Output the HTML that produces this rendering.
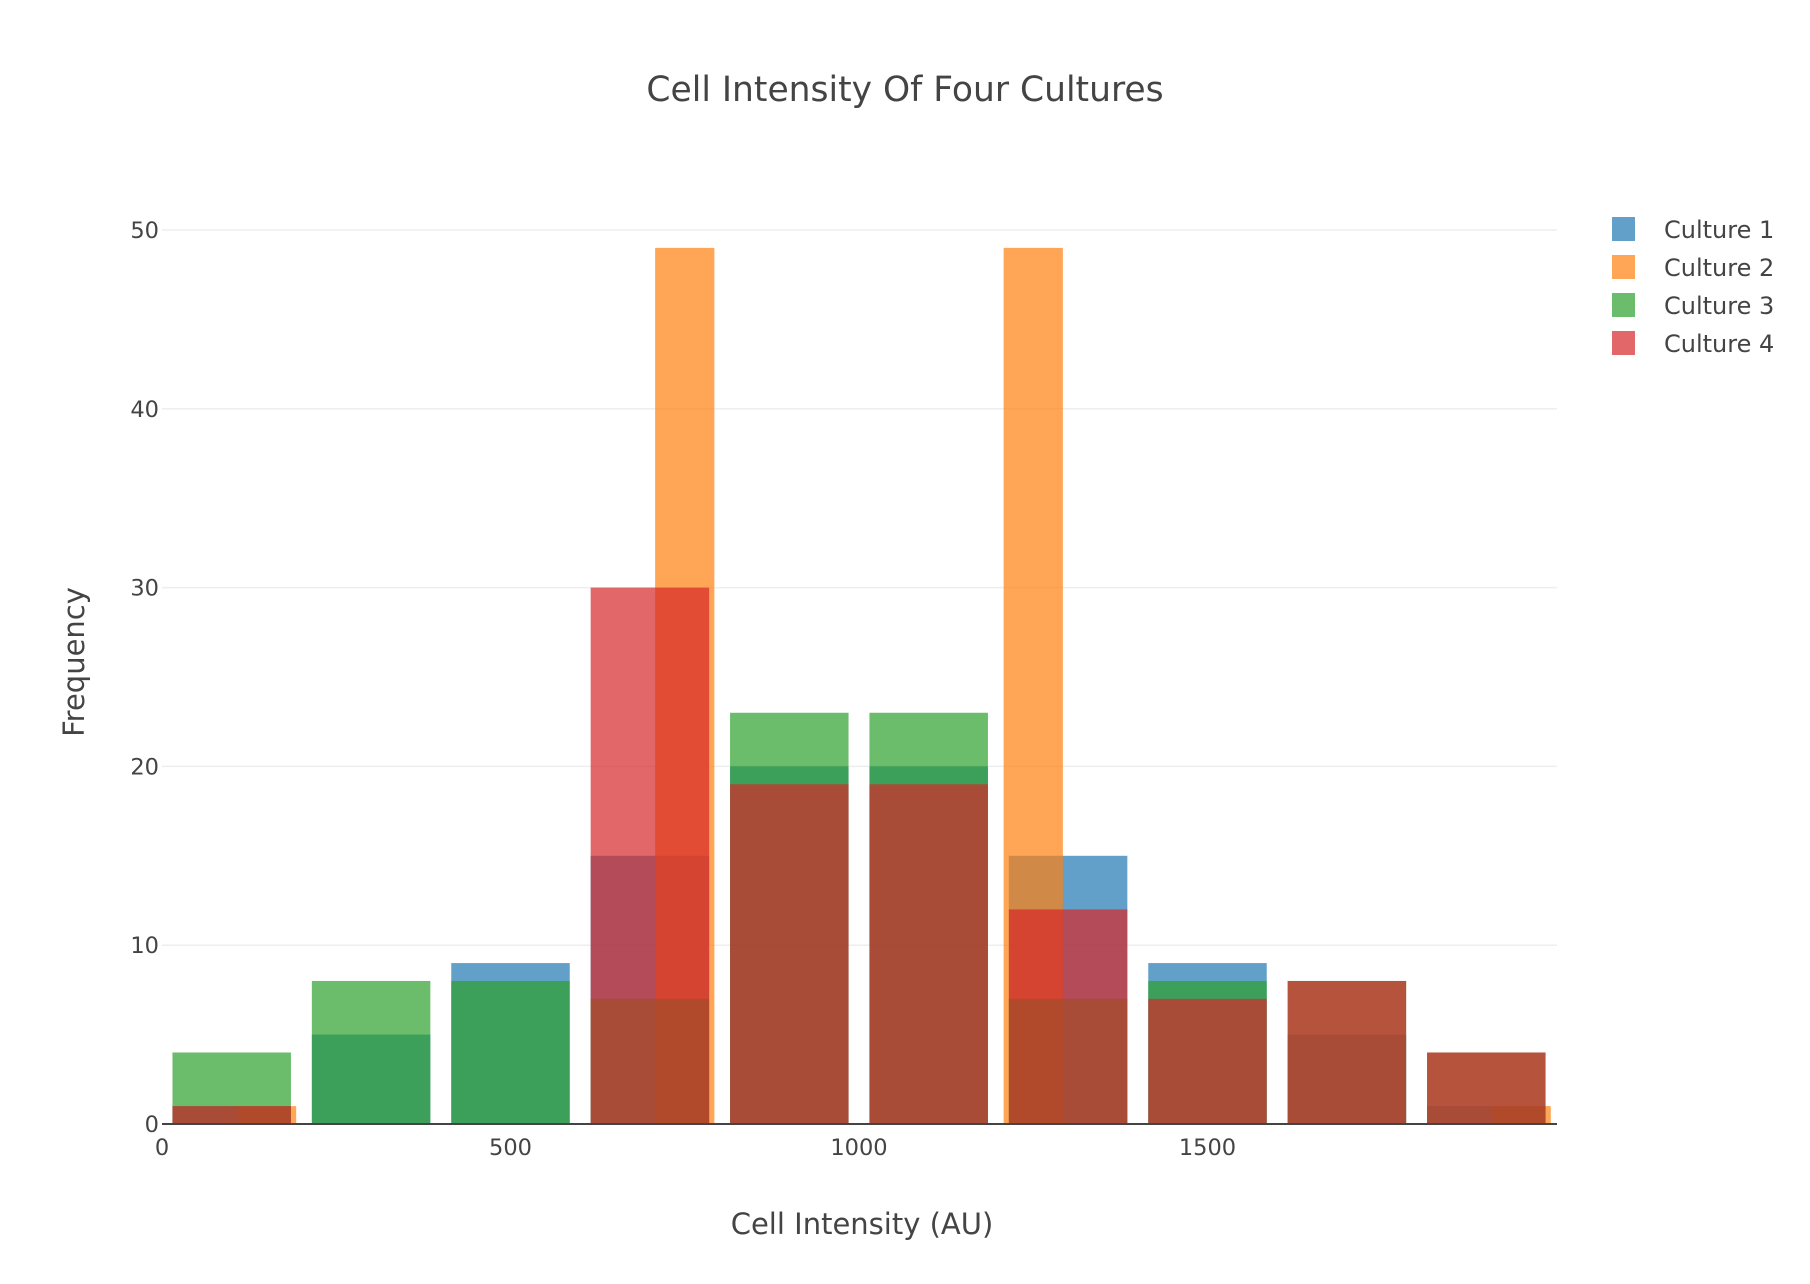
<!DOCTYPE html>
<html><head><meta charset="utf-8"><style>
html,body{margin:0;padding:0;background:#fff;}
svg{display:block;font-family:"DejaVu Sans","Liberation Sans",sans-serif;}
</style></head><body>
<svg id="chart" width="1810" height="1284" viewBox="0 0 1810 1284">
<text x="905" y="101" text-anchor="middle" font-size="34.5" fill="#444">Cell Intensity Of Four Cultures</text>
<g id="grid"></g>
<g id="bars"></g>
<g id="axes"></g>
<text x="862" y="1234" text-anchor="middle" font-size="29" fill="#444">Cell Intensity (AU)</text>
<text transform="translate(84,662) rotate(-90)" text-anchor="middle" font-size="29" fill="#444">Frequency</text>
<g id="legend"></g>
</svg>
<script>
const binStarts200 = [0,200,400,600,800,1000,1200,1400,1600,1800];
const culture1 = [1,5,9,15,20,20,15,9,5,1];
const culture3 = [4,8,8,7,23,23,7,8,8,4];
const culture4 = [1,0,0,30,19,19,12,7,8,4];
const binStarts100 = [0,100,200,300,400,500,600,700,800,900,1000,1100,1200,1300,1400,1500,1600,1700,1800,1900];
const culture2 = [0,1,0,0,0,0,0,49,0,0,0,0,49,0,0,0,0,0,0,1];
const yTicks = [0,10,20,30,40,50];
const xTicks = [0,500,1000,1500];
const seriesNames = ["Culture 1","Culture 2","Culture 3","Culture 4"];
const colors = ["#1f77b4","#ff7f0e","#2ca02c","#d62728"];

const NS="http://www.w3.org/2000/svg";
const L=162,R=1557,Y0=1124,Y50=230;
const xS=v=>L+(v/2000)*(1556-L);
const yS=v=>Y0-(v/50)*(Y0-Y50);
function mk(tag,attrs,parent){const e=document.createElementNS(NS,tag);for(const k in attrs)e.setAttribute(k,attrs[k]);parent.appendChild(e);return e;}
const grid=document.getElementById('grid'),bars=document.getElementById('bars'),axes=document.getElementById('axes'),legend=document.getElementById('legend');
yTicks.forEach(t=>{
  if(t>0){const g=mk('line',{x1:L,x2:R,y1:yS(t),y2:yS(t),stroke:'#eee','stroke-width':1.5},grid);
  
  }
  const tx=mk('text',{x:L-3,y:yS(t)+8,'text-anchor':'end','font-size':22.5,fill:'#444'},axes);
  tx.textContent=t;
  
  
});
xTicks.forEach(t=>{
  const tx=mk('text',{x:xS(t),y:1155,'text-anchor':'middle','font-size':22.5,fill:'#444'},axes);
  tx.textContent=t;
  
  
});
function draw(starts,vals,size,color,idx){
  starts.forEach((s,i)=>{
    if(!vals[i])return;
    const gap=size*0.075;
    const r=mk('rect',{x:xS(s+gap),y:yS(vals[i]),width:xS(s+size-gap)-xS(s+gap),height:Y0-yS(vals[i]),fill:color,'fill-opacity':0.7},bars);
    
    
  });
}
draw(binStarts200,culture1,200,colors[0],1);
draw(binStarts100,culture2,100,colors[1],2);
draw(binStarts200,culture3,200,colors[2],3);
draw(binStarts200,culture4,200,colors[3],4);
const ax=mk('line',{x1:L,x2:R,y1:Y0,y2:Y0,stroke:'#444','stroke-width':2},axes);


seriesNames.forEach((n,i)=>{
  const y=229+i*38;
  const sq=mk('rect',{x:1612,y:y-12,width:23,height:24,fill:colors[i],'fill-opacity':0.7},legend);
  
  
  const t=mk('text',{x:1664,y:y+9,'font-size':24,fill:'#444'},legend);
  t.textContent=n;
  
  
});
</script>
</body></html>
